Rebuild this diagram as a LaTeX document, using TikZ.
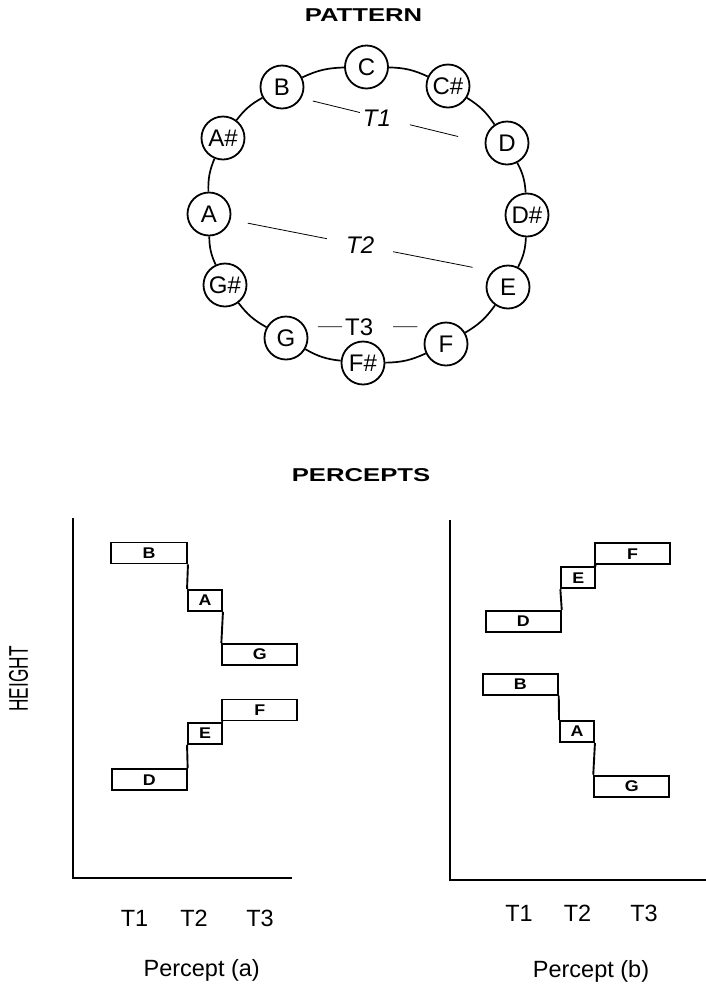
\documentclass[tikz,border=0pt]{standalone}
\usepackage{fontspec}
\setmainfont{Liberation Sans}
\newfontfamily\titlefont{Liberation Sans}[FakeStretch=1.38]
\newfontfamily\boxfont{Liberation Sans}[FakeStretch=1.15]
\newfontfamily\narrowfont{Liberation Sans}[FakeStretch=0.64]
\begin{document}
\begin{tikzpicture}[x=1pt,y=-1pt,
  note/.style={circle, draw, line width=1.8pt, fill=white, minimum size=43pt, inner sep=0pt, font=\fontsize{24}{24}\selectfont},
  ring/.style={line width=1.7pt},
  tline/.style={line width=0.8pt},
  gaplab/.style={fill=white, inner ysep=2pt, inner xsep=3pt, minimum height=20pt, font=\fontsize{24}{24}\selectfont},
  bar/.style={draw, line width=1.9pt, inner sep=0pt, minimum height=21pt, font=\boxfont\bfseries\fontsize{15.5}{15.5}\selectfont},
  wide/.style={bar, minimum width=75pt},
  narrow/.style={bar, minimum width=34pt},
  axis/.style={line width=2pt},
  title/.style={inner sep=0pt, font=\titlefont\bfseries\fontsize{18.6}{18.6}\selectfont},
  lab/.style={inner sep=0pt, font=\fontsize{23.5}{23.5}\selectfont}]
\useasboundingbox (0,0) rectangle (706,989);

% ---------- PATTERN ----------
\node[title] (pattern) at (363.5,14.7) {PATTERN};

\node[note] (C)  at (366.5,67) {C};
\node[note] (Cs) at (448,86) {C\#};
\node[note] (D)  at (507,143) {D};
\node[note] (Ds) at (527,215) {D\#};
\node[note] (E)  at (508,287) {E};
\node[note] (F)  at (446,344) {F};
\node[note] (Fs) at (363,363) {F\#};
\node[note] (G)  at (286,338) {G};
\node[note] (Gs) at (225,285) {G\#};
\node[note] (A)  at (209,214) {A};
\node[note] (As) at (223,138) {A\#};
\node[note] (B)  at (282,87) {B};

\foreach \a/\b in {C/Cs, Cs/D, D/Ds, Ds/E, E/F, F/Fs, Fs/G, G/Gs, Gs/A, A/As, As/B, B/C}
  \draw[ring] (\a) to[bend left=12] (\b);

\draw[tline, shorten <=11.7pt, shorten >=27.3pt] (B.-30) --
  node[gaplab, pos=0.456, text width=44pt, align=left] (t1) {\itshape T1} (D.west);
\draw[tline, shorten <=17.5pt, shorten >=20pt] (A.-15) --
  node[gaplab, pos=0.495, text width=60pt, align=center] (t2) {\itshape T2} (E.135);
\draw[tline, shorten <=12.4pt, shorten >=14.2pt] (G.30) --
  node[gaplab, pos=0.493, text width=45pt, align=left] (t3) {T3} (F.130);

% ---------- PERCEPTS ----------
\node[title] (percepts) at (361,474.7) {PERCEPTS};
\node[inner sep=0pt, rotate=90, font=\narrowfont\fontsize{27}{27}\selectfont] (height) at (18.5,679) {HEIGHT};

% percept (a)
\coordinate (aTop) at (72.5,518);
\coordinate (aO) at (72.5,878);
\coordinate (aEnd) at (292,878);
\draw[axis] (aTop) -- (aO) -- (aEnd);

\node[wide, minimum width=76pt]   (aB) at (149,553) {B};
\node[narrow] (aA) at (205,600.3) {A};
\node[wide]   (aG) at (259.8,654.5) {G};
\node[wide]   (aF) at (259.8,710) {F};
\node[narrow] (aE) at (205,733.3) {E};
\node[wide]   (aD) at (149.2,779.7) {D};
\draw[bar] (aB.south east) -- (aA.north west);
\draw[bar] (aA.south east) -- (aG.north west);
\draw[bar] (aD.north east) -- (aE.south west);
\draw[bar] (aE.north east) -- (aF.south west);

\node[lab] (aT1) at (134.5,918.3) {T1};
\node[lab] (aT2) at (194,918.3) {T2};
\node[lab] (aT3) at (260,918.3) {T3};
\node[lab, anchor=base] (pa) at (201.7,976.5) {Percept (a)};

% percept (b)
\coordinate (bTop) at (449.5,520);
\coordinate (bO) at (449.5,879.5);
\coordinate (bEnd) at (706,879.5);
\draw[axis] (bTop) -- (bO) -- (bEnd);

\node[wide]   (bF) at (632.5,553.8) {F};
\node[narrow] (bE) at (578.3,577.8) {E};
\node[wide]   (bD) at (523.3,621.3) {D};
\node[wide]   (bB) at (520.3,684.2) {B};
\node[narrow] (bA) at (577,731.5) {A};
\node[wide]   (bG) at (631.7,786.2) {G};
\draw[bar] (bD.north east) -- (bE.south west);
\draw[bar] (bE.north east) -- (bF.south west);
\draw[bar] (bB.south east) -- (bA.north west);
\draw[bar] (bA.south east) -- (bG.north west);

\node[lab] (bT1) at (519,913.3) {T1};
\node[lab] (bT2) at (577.5,913.3) {T2};
\node[lab] (bT3) at (644,913.3) {T3};
\node[lab, anchor=base] (pb) at (591,977.5) {Percept (b)};
\end{tikzpicture}
\end{document}
